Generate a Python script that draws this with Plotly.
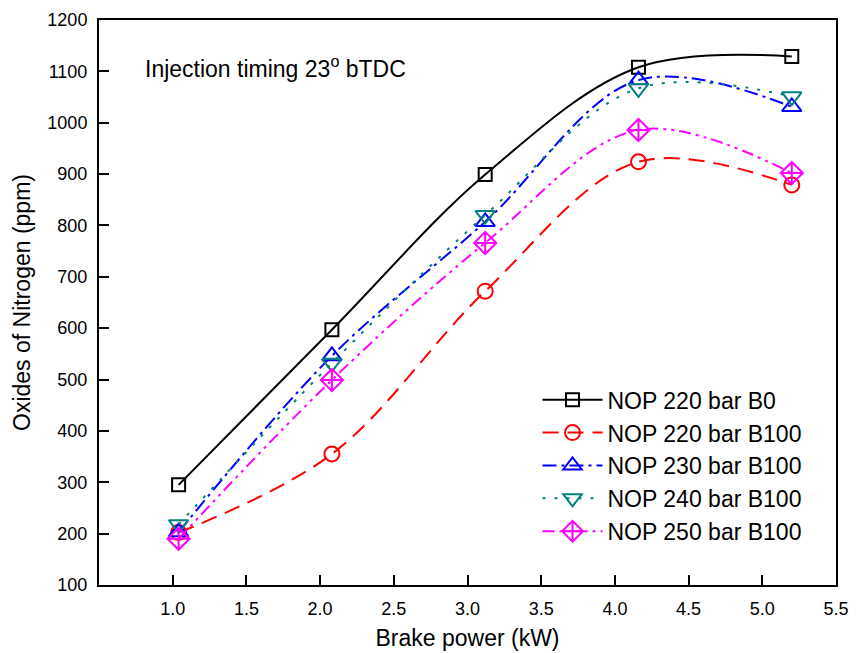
import plotly.graph_objects as go

power = [1.04, 2.08, 3.12, 4.16, 5.20]
nop220_b0 = [295, 597, 899, 1108, 1129]
nop220_b100 = [202, 355, 672, 924, 879]
nop230_b100 = [203, 546, 807, 1083, 1031]
nop240_b100 = [218, 532, 820, 1067, 1051]
nop250_b100 = [190, 499, 766, 986, 902]

series_names = ["NOP 220 bar B0", "NOP 220 bar B100", "NOP 230 bar B100",
                "NOP 240 bar B100", "NOP 250 bar B100"]
x_ticks = [1.0, 1.5, 2.0, 2.5, 3.0, 3.5, 4.0, 4.5, 5.0, 5.5]
y_ticks = list(range(100, 1201, 100))

styles = [
    dict(color="#000000", dash="solid", symbol="square-open", size=13),
    dict(color="#ff0000", dash="16px,9px", symbol="circle-open", size=15),
    dict(color="#0000ff", dash="14px,5px,3px,5px", symbol="triangle-up-open", size=17),
    dict(color="#008080", dash="3px,9px", symbol="triangle-down-open", size=17),
    dict(color="#ff00ff", dash="12px,5px,3px,5px,3px,5px", symbol="diamond-cross-open", size=17),
]
data = [nop220_b0, nop220_b100, nop230_b100, nop240_b100, nop250_b100]

FONT = "Arial, Liberation Sans, sans-serif"
fig = go.Figure()
for name, ys, st in zip(series_names, data, styles):
    fig.add_trace(go.Scatter(
        x=power, y=ys, name=name, mode="lines+markers",
        line=dict(color=st["color"], dash=st["dash"], width=2, shape="spline", smoothing=1.0),
        marker=dict(symbol=st["symbol"], size=st["size"], color=st["color"],
                    line=dict(width=2, color=st["color"])),
        legendgroup=name,
    ))

fig.update_layout(
    width=862, height=653,
    margin=dict(l=99, r=26, t=20, b=68),
    paper_bgcolor="white", plot_bgcolor="white",
    font=dict(family=FONT, color="black", size=18),
    showlegend=True,
    legend=dict(x=0.595, y=0.366, xanchor="left", yanchor="top",
                bgcolor="rgba(0,0,0,0)", borderwidth=0,
                font=dict(size=23, family=FONT), itemwidth=60,
                tracegroupgap=0),
    annotations=[dict(x=0.06, y=0.917, xref="paper", yref="paper",
                      xanchor="left", yanchor="middle", showarrow=False,
                      text="Injection timing 23<sup>o</sup> bTDC",
                      font=dict(size=23, family=FONT))],
)
fig.update_xaxes(
    range=[0.5, 5.5], tickvals=x_ticks, tickformat=".1f",
    ticks="inside", ticklen=10, tickwidth=2, tickcolor="black",
    showline=True, linewidth=2, linecolor="black", mirror=True,
    showgrid=False, zeroline=False, automargin=False,
    title=dict(text="Brake power (kW)", font=dict(size=23, family=FONT), standoff=12),
    tickfont=dict(size=18), ticklabelstandoff=6,
)
fig.update_yaxes(
    range=[100, 1200], tickvals=y_ticks,
    ticks="inside", ticklen=10, tickwidth=2, tickcolor="black",
    showline=True, linewidth=2, linecolor="black", mirror=True,
    showgrid=False, zeroline=False, automargin=False,
    title=dict(text="Oxides of Nitrogen (ppm)", font=dict(size=23, family=FONT), standoff=10),
    tickfont=dict(size=18), ticklabelstandoff=6,
)
fig.write_html("out.html")
